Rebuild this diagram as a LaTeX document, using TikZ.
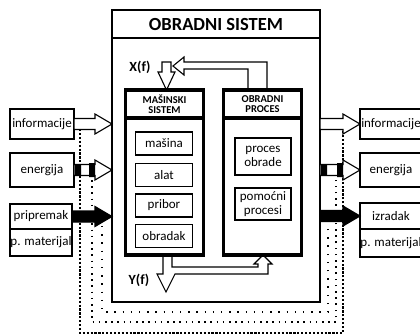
\documentclass[tikz,border=0pt]{standalone}
\usepackage{fontspec}
\setmainfont{Carlito}
\usetikzlibrary{calc}
\newcommand{\boxfont}{\fontsize{13}{13.5}\selectfont}
\newcommand{\headfont}{\fontsize{10.5}{10.5}\selectfont\bfseries}
\newcommand{\titlefont}{\fontsize{18.5}{20}\selectfont\bfseries}
\tikzstyle{unit}=[draw, fill=white, line width=2pt, inner sep=0, outer sep=0, font=\boxfont]
\tikzstyle{sysbox}=[unit, line width=2.2pt]
\tikzstyle{subsystem}=[unit, line width=3.6pt, minimum width=78pt]
\tikzstyle{part}=[unit, line width=1.7pt, minimum width=57pt, minimum height=23pt, align=center]
\tikzstyle{fatarrow}=[draw, fill=white, line width=1.1pt, line join=miter]
\tikzstyle{densedots}=[line width=2.3pt, dash pattern=on 2.2pt off 1.7pt]
\tikzstyle{mediumdots}=[line width=1.6pt, dash pattern=on 1.6pt off 4.6pt]
\tikzstyle{sparsedots}=[line width=1.4pt, dash pattern=on 1.4pt off 6.8pt]
\tikzstyle{processdiagram}=[x=1pt, y=-1pt, line join=miter]
% horizontal fat arrow from #2 to the x of #3
\newcommand{\fatarrow}[3][]{%
  \draw[fatarrow, #1] let \p1=(#2), \p2=(#3) in
    (\x1,\y1+5.5pt) -- (\x2-17pt,\y1+5.5pt) -- (\x2-17pt,\y1+10pt) -- (\x2,\y1)
    -- (\x2-17pt,\y1-10pt) -- (\x2-17pt,\y1-5.5pt) -- (\x1,\y1-5.5pt) -- cycle;}
% energy arrow: fat arrow with two black bands
\newcommand{\energyarrow}[2]{%
  \fatarrow{#1}{#2}
  \fill let \p1=(#1), \p2=(#2) in
    (\x1+1pt,\y1-5.5pt) rectangle (\x1+7pt,\y1+5.5pt)
    (\x2-23pt,\y1-7pt) rectangle (\x2-17pt,\y1+7pt);}

\begin{document}
\begin{tikzpicture}[processdiagram]
    \useasboundingbox (0,0) rectangle (420,335);
    % info / energy / material lines
    \coordinate (infoIn) at (80,129);
    \coordinate (infoOut) at (343,129);
    \coordinate (enIn) at (92,180);
    \coordinate (enOut) at (336,180);
    \coordinate (matIn) at (102,226);
    \coordinate (matOut) at (328,226);
    \draw[densedots] (infoIn) -- ++(0,204) -| (infoOut);
    \draw[mediumdots] (enIn) -- ++(0,142) -| (enOut);
    \draw[sparsedots] (matIn) -- ++(0,86) -| (matOut);

    \node[sysbox, minimum width=208pt, minimum height=292pt] (OS) at (216,156) {};
    \node[sysbox, minimum width=208pt, minimum height=28pt, font=\titlefont] (OStitle) at (216,24) {OBRADNI SISTEM};

    % X(f) and feedback
    \draw[fatarrow] (162,62) -- (171,62) -- (171,72) -- (175,72) -- (166.5,90) -- (158,72) -- (162,72) -- cycle;
    \draw[fatarrow] (173,66) -- (184,57) -- (184,62) -- (267,62) -- (267,90) -- (248,90) -- (248,69) -- (184,69) -- (184,75) -- cycle;
    \node[font=\fontsize{14}{14}\selectfont\bfseries] (X) at (140,67) {X(f)};
    % Y(f) with branch
    \draw[fatarrow] (163,255) -- (163,274) -- (157,274) -- (166,292) -- (175,274) -- (268,274) -- (268,264) -- (272,264)
        -- (263,255) -- (254,264) -- (258,264) -- (258,267) -- (172,267) -- (172,255);
    \node[font=\fontsize{14}{14}\selectfont\bfseries] (Y) at (139,280) {Y(f)};

    \node[subsystem, minimum height=165pt] (MS) at (164.5,172.5) {};
    \node[subsystem, minimum height=28pt, font=\headfont, align=center] (MShead) at (164.5,104) {MAŠINSKI\\SISTEM};
    \node[part] (masina) at (164,143.5) {mašina};
    \node[part] (alat) at (164,175) {alat};
    \node[part] (pribor) at (164,205.5) {pribor};
    \node[part] (obradak) at (164,236) {obradak};

    \node[subsystem, minimum height=165pt] (OP) at (262.5,172.5) {};
    \node[subsystem, minimum height=28pt, font=\headfont, align=center] (OPhead) at (262.5,104) {OBRADNI\\PROCES};
    \node[part, minimum width=56pt, minimum height=37pt] (PO) at (263,156.5) {proces\\obrade};
    \node[part, minimum width=56pt, minimum height=32pt] (PP) at (263,204) {pomoćni\\procesi};

    % inputs
    \node[unit, minimum width=64pt, minimum height=30pt] (infoL) at (42,124) {informacije};
    \node[unit, minimum width=64pt, minimum height=34pt] (enL) at (42,170) {energija};
    \node[unit, minimum width=62pt, minimum height=25pt] (pripL) at (41,216.5) {pripremak};
    \node[unit, minimum width=62pt, minimum height=27pt] (matL) at (41,242.5) {p. materijal};
    % outputs
    \node[unit, minimum width=62pt, minimum height=30pt] (infoR) at (391,124) {informacije};
    \node[unit, minimum width=62pt, minimum height=34pt] (enR) at (391,170) {energija};
    \node[unit, minimum width=62pt, minimum height=26pt] (izrR) at (391,216) {izradak};
    \node[unit, minimum width=62pt, minimum height=28pt] (matR) at (391,243) {p. materijal};

    \fatarrow{infoL.east}{OS.west |- infoL.east}
    \energyarrow{enL.east}{OS.west |- enL.east}
    \fatarrow[fill=black]{pripL.east}{OS.west |- pripL.east}
    \fatarrow{OS.east |- infoR.west}{infoR.west}
    \energyarrow{OS.east |- enR.west}{enR.west}
    \fatarrow[fill=black]{OS.east |- izrR.west}{izrR.west}
\end{tikzpicture}
\end{document}
